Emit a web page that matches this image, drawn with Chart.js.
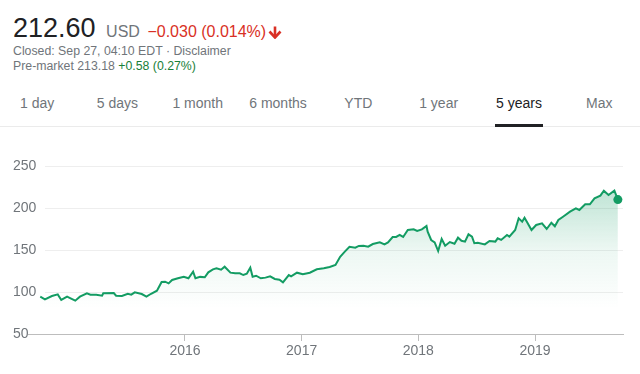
<!DOCTYPE html>
<html>
<head>
<meta charset="utf-8">
<script src="https://cdn.jsdelivr.net/npm/chart.js@4.4.1/dist/chart.umd.min.js"></script>
<style>
    body { margin: 0; width: 640px; height: 374px; background: #fff; position: relative; overflow: hidden;
           font-family: "Liberation Sans", Arial, sans-serif; }
    .line { position: absolute; left: 13px; white-space: nowrap; line-height: 1; }
    .l1 { top: 15px; font-size: 27px; color: #202124; }
    .l1 .cur { font-size: 16px; color: #70757a; margin-left: 3px; }
    .l1 .chg { font-size: 16px; color: #d93025; }
    .l1 svg { vertical-align: -2px; margin-left: 2px; }
    .l2 { top: 45px; font-size: 12.3px; color: #70757a; }
    .l3 { top: 60px; font-size: 12.3px; color: #70757a; }
    .l3 .up { color: #188038; }
    .tabs { position: absolute; left: -3px; top: 95px; white-space: nowrap; line-height: 1; }
    .tab { display: inline-block; width: 80.3px; text-align: center; font-size: 14px; color: #70757a; }
    .tab.on { color: #202124; }
    .sep { position: absolute; left: 0; top: 126px; width: 640px; height: 1px; background: #ebebeb; }
    .bar { position: absolute; left: 495px; top: 124px; width: 48px; height: 3px; background: #202124; }
    #wrap { position: absolute; left: 0; top: 140px; width: 640px; height: 234px; }
</style>
</head>
<body>
<div class="line l1">212.60 <span class="cur">USD</span> <span class="chg">&minus;0.030 (0.014%)</span><svg width="14" height="14" viewBox="0 0 14 14"><path d="M7 1.5V12" stroke="#d93025" stroke-width="2.6" fill="none"/><path d="M1.5 6.5L7 12.5L12.5 6.5" stroke="#d93025" stroke-width="2.6" fill="none"/></svg></div>
<div class="line l2">Closed: Sep 27, 04:10 EDT &middot; Disclaimer</div>
<div class="line l3">Pre-market 213.18 <span class="up">+0.58 (0.27%)</span></div>
<div class="tabs"><span class="tab">1 day</span><span class="tab">5 days</span><span class="tab">1 month</span><span class="tab">6 months</span><span class="tab">YTD</span><span class="tab">1 year</span><span class="tab on">5 years</span><span class="tab">Max</span></div>
<div class="sep"></div>
<div class="bar"></div>
<div id="wrap"><canvas id="priceChart" width="640" height="234"></canvas></div>
<script>
// dates as decimal years
const dates = [
    2014.76, 2014.80, 2014.86, 2014.91, 2014.94, 2014.99, 2015.02, 2015.06, 2015.10, 2015.16,
    2015.19, 2015.24, 2015.29, 2015.30, 2015.39, 2015.41, 2015.46, 2015.51, 2015.54, 2015.57,
    2015.63, 2015.67, 2015.71, 2015.76, 2015.80, 2015.83, 2015.86, 2015.89, 2015.94, 2015.99,
    2016.03, 2016.07, 2016.09, 2016.13, 2016.17, 2016.20, 2016.24, 2016.27, 2016.31, 2016.34,
    2016.39, 2016.43, 2016.47, 2016.50, 2016.53, 2016.56, 2016.58, 2016.61, 2016.65, 2016.69,
    2016.73, 2016.77, 2016.81, 2016.84, 2016.89, 2016.91, 2016.96, 2017.01, 2017.07, 2017.13,
    2017.19, 2017.24, 2017.29, 2017.33, 2017.37, 2017.41, 2017.46, 2017.49, 2017.53, 2017.57,
    2017.61, 2017.67, 2017.71, 2017.74, 2017.78, 2017.81, 2017.84, 2017.87, 2017.91, 2017.96,
    2017.99, 2018.03, 2018.07, 2018.08, 2018.11, 2018.14, 2018.17, 2018.20, 2018.23, 2018.27,
    2018.31, 2018.34, 2018.37, 2018.40, 2018.43, 2018.46, 2018.48, 2018.51, 2018.57, 2018.61,
    2018.66, 2018.68, 2018.71, 2018.76, 2018.78, 2018.83, 2018.86, 2018.89, 2018.91, 2018.93,
    2018.97, 2019.01, 2019.06, 2019.10, 2019.14, 2019.17, 2019.20, 2019.24, 2019.30, 2019.35,
    2019.38, 2019.43, 2019.47, 2019.51, 2019.56, 2019.59, 2019.63, 2019.68, 2019.71
];
const prices = [
    94.4, 91.3, 95.2, 97.2, 90.5, 94.4, 92.5, 89.7, 94.4, 98.4,
    96.8, 96.8, 95.6, 98.4, 98.8, 95.6, 95.2, 97.9, 96.8, 99.6,
    97.6, 94.4, 97.9, 101.6, 111.9, 112.3, 110.3, 114.3, 116.3, 118.2,
    116.3, 124.2, 116.3, 118.0, 117.6, 123.4, 127.0, 128.2, 126.6, 130.1,
    123.0, 122.2, 122.2, 120.2, 121.8, 129.0, 118.2, 119.4, 116.3, 117.1,
    118.6, 115.5, 114.7, 111.5, 120.2, 118.6, 123.0, 121.1, 123.0, 127.0,
    128.2, 129.8, 132.1, 142.0, 148.0, 153.9, 152.7, 154.8, 155.0, 154.0,
    157.1, 159.1, 156.7, 159.1, 165.5, 165.5, 167.9, 165.5, 173.8, 174.6,
    172.6, 174.6, 178.6, 171.8, 161.9, 159.1, 148.8, 163.1, 155.1, 159.5,
    157.5, 164.7, 161.0, 159.9, 168.7, 166.0, 158.0, 158.5, 156.7, 160.7,
    160.0, 163.9, 162.0, 167.9, 166.0, 173.8, 187.7, 183.7, 188.5, 183.7,
    173.8, 179.8, 181.7, 175.0, 182.5, 178.2, 185.7, 189.6, 195.6, 199.6,
    197.6, 204.4, 204.4, 211.5, 214.7, 220.6, 215.5, 220.6, 210.0
];
const yTicks = [50, 100, 150, 200, 250];
const yearTicks = [2016, 2017, 2018, 2019];
const yearLabels = ['2016', '2017', '2018', '2019'];

const green = '#139c63';
const tickFont = { family: '"Liberation Sans", Arial, sans-serif', size: 14 };

// horizontal grid lines that start a bit right of the axis line
const shortGrid = {
    id: 'shortGrid',
    beforeDatasetsDraw(chart) {
        const { ctx, chartArea, scales } = chart;
        ctx.save();
        ctx.strokeStyle = '#eeeeee';
        ctx.lineWidth = 1;
        yTicks.forEach(function(v) {
            if (v === scales.y.min) return;
            const py = Math.round(scales.y.getPixelForValue(v)) + 0.5;
            ctx.beginPath();
            ctx.moveTo(chartArea.left + 17, py);
            ctx.lineTo(chartArea.right, py);
            ctx.stroke();
        });
        ctx.restore();
    }
};

new Chart(document.getElementById('priceChart').getContext('2d'), {
    type: 'line',
    data: {
        datasets: [{
            data: dates.map(function(d, i) { return { x: d, y: prices[i] }; }),
            borderColor: green,
            borderWidth: 2,
            tension: 0,
            fill: 'start',
            backgroundColor: function(context) {
                const area = context.chart.chartArea;
                if (!area) return 'rgba(19,156,99,0.1)';
                const g = context.chart.ctx.createLinearGradient(0, area.top, 0, area.bottom);
                g.addColorStop(0, 'rgba(19,156,99,0.35)');
                g.addColorStop(0.2, 'rgba(19,156,99,0.24)');
                g.addColorStop(0.5, 'rgba(19,156,99,0.08)');
                g.addColorStop(0.85, 'rgba(19,156,99,0)');
                return g;
            },
            pointRadius: function(c) { return c.dataIndex === prices.length - 1 ? 4.5 : 0; },
            pointBackgroundColor: green,
            pointBorderWidth: 0,
            pointHoverRadius: 0
        }]
    },
    options: {
        responsive: false,
        animation: false,
        devicePixelRatio: 1,
        layout: { padding: { top: 26, left: 0, right: 17, bottom: 0 } },
        plugins: { legend: { display: false }, tooltip: { enabled: false } },
        scales: {
            x: {
                type: 'linear',
                min: 2014.655,
                max: 2019.754,
                afterBuildTicks: function(axis) {
                    axis.ticks = yearTicks.map(function(v) { return { value: v }; });
                },
                afterFit: function(axis) { axis.height = 40; },
                grid: { display: true, drawOnChartArea: false, drawTicks: true, tickLength: 7, color: '#bdbdbd' },
                border: { display: true, color: '#bdbdbd' },
                ticks: {
                    color: '#70757a',
                    font: tickFont,
                    padding: 2,
                    maxRotation: 0,
                    callback: function(v) { return yearLabels[yearTicks.indexOf(v)]; }
                }
            },
            y: {
                min: 50,
                max: 250,
                afterBuildTicks: function(axis) {
                    axis.ticks = yTicks.map(function(v) { return { value: v }; });
                },
                afterFit: function(axis) { axis.width = 28; },
                grid: { display: false },
                border: { display: false },
                ticks: { color: '#70757a', font: tickFont, mirror: true, padding: -15, crossAlign: 'near' }
            }
        }
    },
    plugins: [shortGrid]
});
</script>
</body>
</html>
